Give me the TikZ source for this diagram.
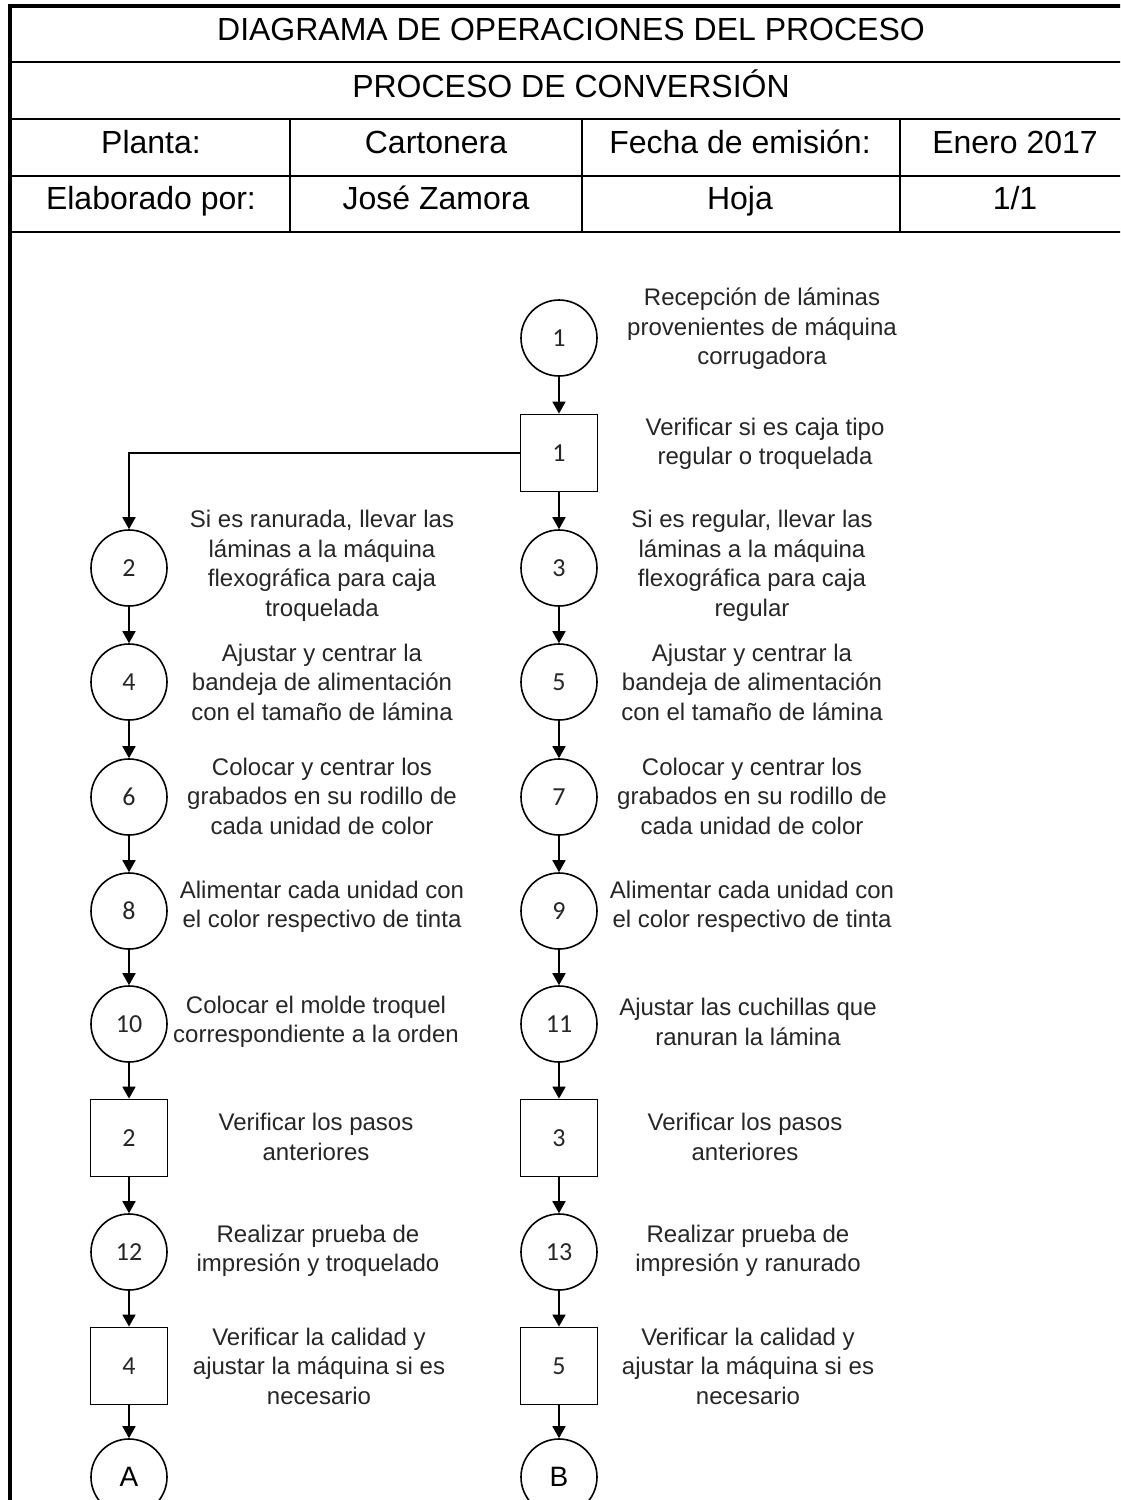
\documentclass[tikz,border=0pt]{standalone}
\usepackage{fontspec}
\setmainfont{Liberation Sans}
\newfontfamily\numfont{Carlito}
\usetikzlibrary{arrows.meta}
\begin{document}
\begin{tikzpicture}[x=1pt,y=-1pt,
  opcirc/.style={circle,draw,line width=1.6pt,minimum size=76pt,inner sep=0pt,font=\numfont\fontsize{26}{30}\selectfont,text=black!85},
  inspbox/.style={rectangle,draw,line width=1.8pt,minimum size=77pt,inner sep=0pt,font=\numfont\fontsize{26}{30}\selectfont,text=black!85},
  connector/.style={circle,draw,line width=1.6pt,minimum size=76pt,inner sep=0pt,font=\fontsize{28}{32}\selectfont},
  desc/.style={align=center,font=\fontsize{24}{29.5}\selectfont,text=black!85,inner sep=0pt},
  flow/.style={line width=1.8pt,-{Triangle[length=12pt,width=13pt]}},
  hdr/.style={font=\fontsize{32}{38}\selectfont,anchor=base},
  frameline/.style={line width=2.5pt},
  outerline/.style={line width=3.2pt}]
\useasboundingbox (0,0) rectangle (1120,1500);
\clip (0,0) rectangle (1120,1500);
\fill[white] (0,0) rectangle (1120,1500);

% header table
\draw[outerline] (10,1505) -- (10,6) -- (1140,6);
\draw[frameline] (10,62) -- (1140,62);
\draw[frameline] (10,119) -- (1140,119);
\draw[frameline] (10,176) -- (1140,176);
\draw[frameline] (10,232) -- (1140,232);
\draw[frameline] (290,119) -- (290,232);
\draw[frameline] (582,119) -- (582,232);
\draw[frameline] (900,119) -- (900,232);

\node[hdr] (title) at (571,40) {DIAGRAMA DE OPERACIONES DEL PROCESO};
\node[hdr] (subtitle) at (571,97) {PROCESO DE CONVERSIÓN};
\node[hdr] (planta) at (151,153) {Planta:};
\node[hdr] (cartonera) at (436,153) {Cartonera};
\node[hdr] (fecha) at (740,153) {Fecha de emisión:};
\node[hdr] (enero) at (1015,153) {Enero 2017};
\node[hdr] (elab) at (151,209) {Elaborado por:};
\node[hdr] (jose) at (436,209) {José Zamora};
\node[hdr] (hoja) at (740,209) {Hoja};
\node[hdr] (pag) at (1015,209) {1/1};

% nodes
\node[opcirc] (c1) at (559,338) {1};
\node[inspbox] (b1) at (559,453) {1};
\node[opcirc] (c2) at (129,568) {2};
\node[opcirc] (c3) at (559,568) {3};
\node[opcirc] (c4) at (129,682) {4};
\node[opcirc] (c5) at (559,682) {5};
\node[opcirc] (c6) at (129,797) {6};
\node[opcirc] (c7) at (559,797) {7};
\node[opcirc] (c8) at (129,911) {8};
\node[opcirc] (c9) at (559,911) {9};
\node[opcirc] (c10) at (129,1024) {10};
\node[opcirc] (c11) at (559,1024) {11};
\node[inspbox] (b2) at (129,1138) {2};
\node[inspbox] (b3) at (559,1138) {3};
\node[opcirc] (c12) at (129,1252) {12};
\node[opcirc] (c13) at (559,1252) {13};
\node[inspbox] (b4) at (129,1366) {4};
\node[inspbox] (b5) at (559,1366) {5};
\node[connector] (ca) at (129,1477) {A};
\node[connector] (cb) at (559,1477) {B};

% descriptions
\node[desc] (t1) at (762,329) {Recepción de láminas\\provenientes de máquina\\corrugadora};
\node[desc] (tb1) at (765,444) {Verificar si es caja tipo\\regular o troquelada};
\node[desc] (t2) at (322,566) {Si es ranurada, llevar las\\láminas a la máquina\\flexográfica para caja\\troquelada};
\node[desc] (t3) at (752,566) {Si es regular, llevar las\\láminas a la máquina\\flexográfica para caja\\regular};
\node[desc] (t4) at (322,682) {Ajustar y centrar la\\bandeja de alimentación\\con el tamaño de lámina};
\node[desc] (t5) at (752,682) {Ajustar y centrar la\\bandeja de alimentación\\con el tamaño de lámina};
\node[desc] (t6) at (322,796) {Colocar y centrar los\\grabados en su rodillo de\\cada unidad de color};
\node[desc] (t7) at (752,796) {Colocar y centrar los\\grabados en su rodillo de\\cada unidad de color};
\node[desc] (t8) at (322,907) {Alimentar cada unidad con\\el color respectivo de tinta};
\node[desc] (t9) at (752,907) {Alimentar cada unidad con\\el color respectivo de tinta};
\node[desc] (t10) at (316,1022) {Colocar el molde troquel\\correspondiente a la orden};
\node[desc] (t11) at (748,1022) {Ajustar las cuchillas que\\ranuran la lámina};
\node[desc] (tb2) at (316,1137) {Verificar los pasos\\anteriores};
\node[desc] (tb3) at (745,1137) {Verificar los pasos\\anteriores};
\node[desc] (t12) at (318,1251) {Realizar prueba de\\impresión y troquelado};
\node[desc] (t13) at (748,1251) {Realizar prueba de\\impresión y ranurado};
\node[desc] (tb4) at (319,1366) {Verificar la calidad y\\ajustar la máquina si es\\necesario};
\node[desc] (tb5) at (748,1366) {Verificar la calidad y\\ajustar la máquina si es\\necesario};

% connectors
\draw[flow] (c1) -- (b1);
\draw[flow] (b1.west) -| (c2);
\draw[flow] (b1) -- (c3);
\draw[flow] (c2) -- (c4);
\draw[flow] (c4) -- (c6);
\draw[flow] (c6) -- (c8);
\draw[flow] (c8) -- (c10);
\draw[flow] (c10) -- (b2);
\draw[flow] (b2) -- (c12);
\draw[flow] (c12) -- (b4);
\draw[flow] (b4) -- (ca);
\draw[flow] (c3) -- (c5);
\draw[flow] (c5) -- (c7);
\draw[flow] (c7) -- (c9);
\draw[flow] (c9) -- (c11);
\draw[flow] (c11) -- (b3);
\draw[flow] (b3) -- (c13);
\draw[flow] (c13) -- (b5);
\draw[flow] (b5) -- (cb);
\end{tikzpicture}
\end{document}
